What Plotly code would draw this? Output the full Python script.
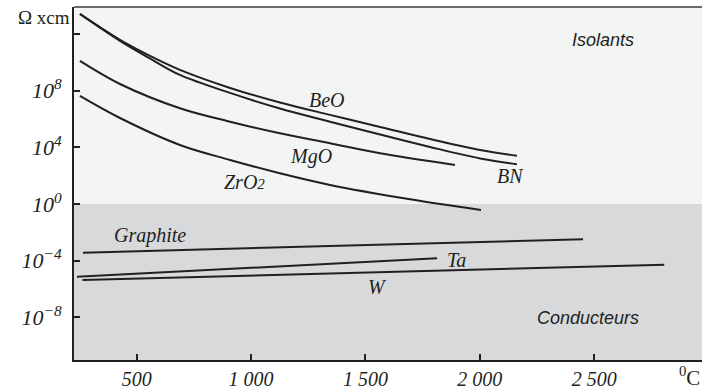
import plotly.graph_objects as go

# Temperatures (°C) and log10 resistivity (Ω·cm)
beo_t = [252, 427, 558, 689, 908, 1126, 1345, 1564, 1782, 2001, 2162]
beo_l = [13.41, 11.58, 10.45, 9.46, 8.19, 7.17, 6.29, 5.44, 4.59, 3.82, 3.41]
bn_t = [252, 427, 558, 689, 908, 1126, 1345, 1564, 1782, 2001, 2162]
bn_l = [13.41, 11.51, 10.27, 9.11, 7.84, 6.74, 5.81, 4.91, 4.03, 3.22, 2.81]
mgo_t = [252, 427, 689, 908, 1126, 1345, 1564, 1891]
mgo_l = [10.10, 8.47, 6.76, 5.81, 4.99, 4.29, 3.58, 2.76]
zro2_t = [252, 427, 689, 908, 1126, 1345, 1695, 2005]
zro2_l = [7.63, 6.07, 4.17, 3.11, 2.17, 1.35, 0.34, -0.42]
graphite_t = [265, 2451]
graphite_l = [-3.43, -2.49]
ta_t = [239, 1813]
ta_l = [-5.13, -3.83]
w_t = [263, 2806]
w_l = [-5.36, -4.28]

x_ticks = [500, 1000, 1500, 2000, 2500]
x_ticktext = ["500", "1 000", "1 500", "2 000", "2 500"]
y_ticks = [-8, -4, 0, 4, 8, 12]
y_ticktext = ["10<sup>−8</sup>", "10<sup>−4</sup>", "10<sup>0</sup>", "10<sup>4</sup>", "10<sup>8</sup>", ""]

# label name, temperature, log10 value
curve_labels = [("BeO", 1332, 7.34), ("MgO", 1262, 3.32), ("ZrO2", 973, 1.56),
                ("BN", 2132, 1.98), ("Graphite", 558, -2.19), ("Ta", 1896, -3.95),
                ("W", 1551, -5.86)]
zone_labels = [("Isolants", 2539, 11.58), ("Conducteurs", 2473, -8.04)]

XMIN, XMAX = 226, 2971
YMIN, YMAX = -11.0, 13.9
LINE = "#231f20"
SERIF = "Liberation Serif"
SANS = "Liberation Sans"

fig = go.Figure()
for t, l, shape in [(beo_t, beo_l, "spline"), (bn_t, bn_l, "spline"), (mgo_t, mgo_l, "spline"),
                    (zro2_t, zro2_l, "spline"), (graphite_t, graphite_l, "linear"),
                    (ta_t, ta_l, "linear"), (w_t, w_l, "linear")]:
    fig.add_trace(go.Scatter(x=t, y=l, mode="lines",
                             line=dict(color=LINE, width=2, shape=shape, smoothing=1.0),
                             showlegend=False, hoverinfo="skip"))

shapes = [
    dict(type="rect", xref="paper", yref="y", x0=0, x1=1, y0=0, y1=YMAX,
         fillcolor="#f3f5f5", line=dict(width=0), layer="below"),
    dict(type="rect", xref="paper", yref="y", x0=0, x1=1, y0=YMIN, y1=0,
         fillcolor="#d8d9db", line=dict(width=0), layer="below"),
    dict(type="line", xref="paper", yref="paper", x0=0, x1=1, y0=1, y1=1,
         line=dict(color="#3a3a3a", width=1.5)),
]

annotations = []
for name, t, l in curve_labels:
    txt = "ZrO<span style='font-size:15px'>2</span>" if name == "ZrO2" else name
    annotations.append(dict(x=t, y=l, xref="x", yref="y", text=f"<i>{txt}</i>", showarrow=False,
                            font=dict(family=SERIF, size=20, color="#231f20", style="italic")))
for name, t, l in zone_labels:
    annotations.append(dict(x=t, y=l, xref="x", yref="y", text=name, showarrow=False,
                            font=dict(family=SANS, size=18, color="#231f20", style="italic")))
annotations.append(dict(x=0, y=1, xref="paper", yref="paper", xanchor="right", yanchor="top",
                        xshift=-2, yshift=2, text="Ω xcm", showarrow=False,
                        font=dict(family=SERIF, size=19, color="#231f20")))
annotations.append(dict(x=1, y=0, xref="paper", yref="paper", xanchor="right", yanchor="top",
                        yshift=-1, text="<sup>0</sup>C", showarrow=False,
                        font=dict(family=SERIF, size=21, color="#231f20")))

fig.update_layout(
    width=702, height=389,
    margin=dict(l=74, r=0, t=7, b=29, autoexpand=False),
    paper_bgcolor="white", plot_bgcolor="white",
    shapes=shapes, annotations=annotations,
    xaxis=dict(range=[XMIN, XMAX], tickvals=x_ticks, automargin=False,
               ticktext=[f"<i>{s}</i>" for s in x_ticktext],
               ticks="inside", ticklen=6, tickwidth=1.5, tickcolor=LINE,
               showline=True, linecolor=LINE, linewidth=2, showgrid=False, zeroline=False,
               ticklabelstandoff=0,
               tickfont=dict(family=SERIF, size=20, color="#231f20", style="italic")),
    yaxis=dict(range=[YMIN, YMAX], tickvals=y_ticks, automargin=False,
               ticktext=[f"<i>{s}</i>" if s else "" for s in y_ticktext],
               ticks="inside", ticklen=6, tickwidth=1.5, tickcolor=LINE,
               showline=True, linecolor=LINE, linewidth=2, showgrid=False, zeroline=False,
               ticklabelstandoff=6,
               tickfont=dict(family=SERIF, size=22, color="#231f20", style="italic")),
)

fig.write_html("out.html")
